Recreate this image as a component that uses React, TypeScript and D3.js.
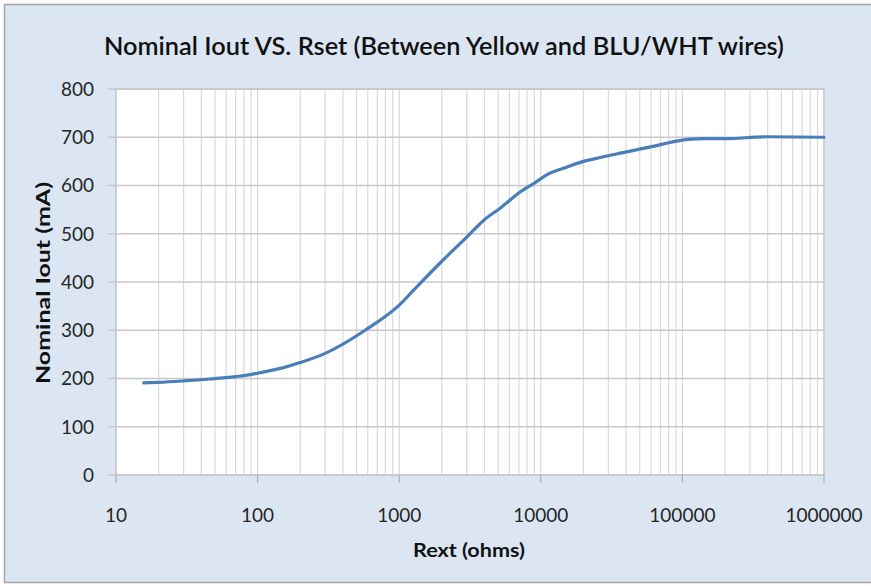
import React from "react";
import * as d3 from "d3";

const rext: number[] = [15.7, 20, 30, 46, 70, 89, 100, 150, 200, 300, 575, 1000, 1264, 2000, 3000, 3960, 5160, 7200, 8900, 11500, 15200, 19500, 26300, 36500, 62000, 91000, 140000, 200000, 390000, 1000000];
const iout: number[] = [191, 192, 195, 199, 204, 208, 211, 222, 233, 252, 300, 352, 383, 443, 493, 528, 553, 587, 604, 625, 638, 649, 658, 667, 681, 692, 697, 697, 701, 700];
const xTicks: number[] = [10, 100, 1000, 10000, 100000, 1000000];
const yTicks: number[] = [0, 100, 200, 300, 400, 500, 600, 700, 800];
const title = "Nominal Iout VS. Rset (Between Yellow and BLU/WHT wires)";
const xTitle = "Rext (ohms)";
const yTitle = "Nominal Iout (mA)";

const W = 871, H = 586;
const L = 116, R = 824, T = 89, B = 475;
const FONT = "Lato, 'Open Sans', sans-serif";

export default function App() {
  const x = d3.scaleLog().domain([10, 1000000]).range([L, R]);
  const y = d3.scaleLinear().domain([0, 800]).range([B, T]);
  const minor: number[] = [];
  for (let e = 1; e < 6; e++) {
    for (let m = 2; m <= 9; m++) minor.push(m * Math.pow(10, e));
  }
  const pts = rext.map((r, i) => [r, iout[i]] as [number, number]);
  const line = d3.line<[number, number]>().x(d => x(d[0])).y(d => y(d[1])).curve(d3.curveMonotoneX);
  return (
    <svg width={W} height={H} style={{ position: "absolute", left: 0, top: 0 }} fontFamily={FONT}>
      <rect x={0} y={0} width={W} height={H} fill="#ffffff" />
      <rect x={4.5} y={4.5} width={W + 10} height={578} fill="#dce6f2" stroke="#a6a6a6" strokeWidth={1.5} />
      <rect x={L} y={T} width={R - L} height={B - T} fill="#ffffff" />
      {minor.map((v, i) => (
        <line key={"m" + i} x1={x(v)} x2={x(v)} y1={T} y2={B} stroke="#d9d9d9" strokeWidth={1.2} />
      ))}
      {xTicks.map((v, i) => (
        <line key={"xd" + i} x1={x(v)} x2={x(v)} y1={T} y2={B} stroke="#d9d9d9" strokeWidth={1.2} />
      ))}
      {yTicks.map((v, i) => (
        <line key={"g" + i} x1={L - 8} x2={R} y1={y(v)} y2={y(v)} stroke="#c8c8c8" strokeWidth={1.5} />
      ))}
      <rect x={L} y={T} width={R - L} height={B - T} fill="none" stroke="#c8c8c8" strokeWidth={1.5} />
      {xTicks.map((v, i) => (
        <line key={"xt" + i} x1={x(v)} x2={x(v)} y1={B} y2={B + 8} stroke="#b0b0b0" strokeWidth={1.2} />
      ))}
      <path d={line(pts) || ""} fill="none" stroke="#4a7ebb" strokeWidth={3.2} strokeLinejoin="round" strokeLinecap="round" />
      {yTicks.map((v, i) => (
        <text key={"yl" + i} x={94} y={y(v)} dy="0.36em" textAnchor="end" fontSize={19} fill="#262626">{v}</text>
      ))}
      {xTicks.map((v, i) => (
        <text key={"xl" + i} x={x(v)} y={522} textAnchor="middle" fontSize={19} fill="#262626">{v}</text>
      ))}
      <text x={444} y={55} textAnchor="middle" fontSize={25} fill="#111111" fontWeight={600} textLength={680} lengthAdjust="spacingAndGlyphs">{title}</text>
      <text x={469} y={557} textAnchor="middle" fontSize={19} fontWeight={700} fill="#111111" textLength={112} lengthAdjust="spacingAndGlyphs">{xTitle}</text>
      <text transform={`translate(50,283) rotate(-90)`} textAnchor="middle" fontSize={19} fontWeight={700} fill="#111111" textLength={202} lengthAdjust="spacingAndGlyphs">{yTitle}</text>
    </svg>
  );
}
